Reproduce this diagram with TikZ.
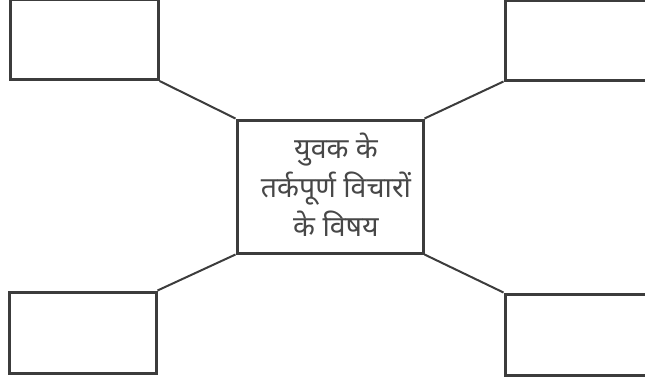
\documentclass[tikz,border=0pt]{standalone}
\usepackage{fontspec}
\newfontfamily\devfont[Script=Devanagari]{Noto Sans}
\definecolor{ink}{HTML}{3C3C3C}
\definecolor{txt}{HTML}{474747}
\begin{document}
\begin{tikzpicture}[x=1pt,y=-1pt,
  box/.style={draw=ink,line width=3pt,fill=white,inner sep=0pt,rectangle},
  link/.style={draw=ink,line width=2pt}]
\useasboundingbox (0,0) rectangle (645,381);
\clip (0,0) rectangle (645,381);
\node[box,minimum width=148pt,minimum height=80pt] (tl) at (84,39.5) {};
\node[box,minimum width=150pt,minimum height=80pt] (tr) at (580,40) {};
\node[box,minimum width=147pt,minimum height=81pt] (bl) at (82.5,332.5) {};
\node[box,minimum width=150pt,minimum height=81pt] (br) at (580,334.5) {};
\node[box,minimum width=186pt,minimum height=133pt] (c) at (330,186.5) {};
\node[text=txt,align=center,font=\devfont\fontsize{28.5}{39}\selectfont] (ct) at (336,185) {युवक के\\तर्कपूर्ण विचारों\\के विषय};
\draw[link] (tl.south east) -- (c.north west);
\draw[link] (tr.south west) -- (c.north east);
\draw[link] (bl.north east) -- (c.south west);
\draw[link] (br.north west) -- (c.south east);
\end{tikzpicture}
\end{document}
